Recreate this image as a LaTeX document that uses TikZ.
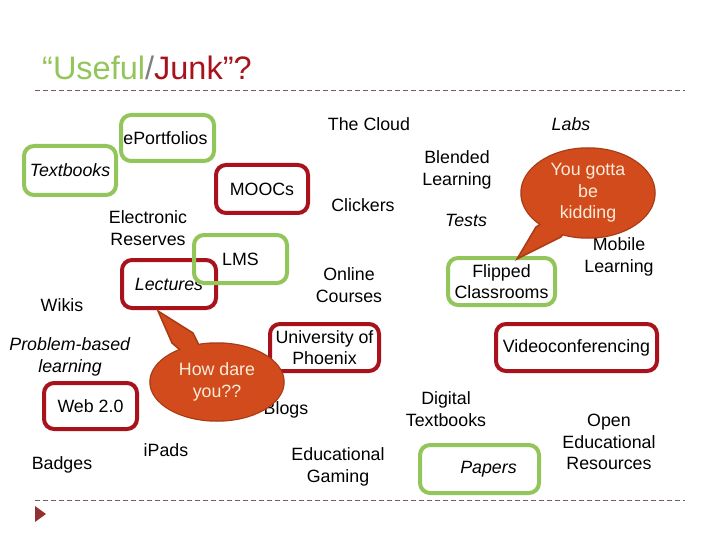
\documentclass[tikz,border=0pt]{standalone}
\usepackage{fontspec}
\setmainfont{Liberation Sans}
\definecolor{gr}{HTML}{92C55A}
\definecolor{rd}{HTML}{A8121C}
\definecolor{bub}{HTML}{D14B1C}
\definecolor{bubd}{HTML}{A83A14}
\definecolor{dashc}{HTML}{7A5C5C}
\definecolor{tric}{HTML}{943030}
\definecolor{bubtext}{HTML}{FDEBDA}
\begin{document}
\begin{tikzpicture}[x=1pt,y=-1pt,
  lbl/.style={font=\fontsize{17.8}{21.5}\selectfont, align=center, inner sep=0pt},
  boxed/.style={lbl, rounded corners=10pt, line width=4pt, draw},
  gbox/.style={boxed, draw=gr},
  rbox/.style={boxed, draw=rd},
  bubshape/.style={fill=bub, draw=bubd, line width=1.5pt},
  bubfill/.style={fill=bub},
  bubtxt/.style={lbl, text=bubtext},
  sepline/.style={draw=dashc, line width=1pt, dash pattern=on 5pt off 3pt}]
\useasboundingbox (0,0) rectangle (720,540);

% title and separators
\node[anchor=base west, font=\fontsize{32.5}{32.5}\selectfont, inner sep=0pt] (title) at (42,80)
  {\textcolor{gr}{“Useful}\textcolor{gray}{/}\textcolor{rd}{Junk”?}};
\draw[sepline] (35,91) -- (685,91);
\draw[sepline] (35,500) -- (685,500);
\fill[tric] (35,506) -- (35,522) -- (46,514) -- cycle;

% boxes
\node[gbox, minimum width=92pt, minimum height=49pt] (textbooks) at (70,170.5) {\textit{Textbooks}};
\node[gbox, minimum width=93pt, minimum height=46pt] (eport) at (167.5,138) {ePortfolios\hspace*{4pt}};
\node[rbox, minimum width=92pt, minimum height=48pt] (moocs) at (262,189) {MOOCs};
\node[rbox, minimum width=94pt, minimum height=48pt] (lectures) at (169,284) {\textit{Lectures}};
\node[gbox, minimum width=93pt, minimum height=48pt] (lms) at (240.5,259) {LMS};
\node[gbox, minimum width=107pt, minimum height=47pt] (flipped) at (501.5,281.5) {Flipped\\Classrooms};
\node[rbox, minimum width=109pt, minimum height=47pt] (uop) at (324.5,347.5) {University of\\Phoenix};
\node[rbox, minimum width=161pt, minimum height=47pt] (video) at (576.5,347.5) {Videoconferencing};
\node[rbox, minimum width=93pt, minimum height=46pt] (web) at (90.5,406) {Web 2.0};
\node[gbox, minimum width=119pt, minimum height=48pt] (papers) at (479.5,469) {\hspace*{18pt}\textit{Papers}};

% plain labels
\node[lbl] (cloud) at (369,124) {The Cloud};
\node[lbl] (labs) at (571,124) {\textit{Labs}};
\node[lbl] (blended) at (457,170) {Blended\\Learning};
\node[lbl] (clickers) at (363,205) {Clickers};
\node[lbl] (tests) at (466,220) {\textit{Tests}};
\node[lbl] (ereserves) at (148,228) {Electronic\\Reserves};
\node[lbl] (online) at (349,285) {Online\\Courses};
\node[lbl] (mobile) at (619,257) {Mobile\\Learning};
\node[lbl] (wikis) at (62,305) {Wikis};
\node[lbl] (pbl) at (70,357) {\textit{Problem-based}\\\textit{learning}};
\node[lbl] (blogs) at (286,410) {Blogs};
\node[lbl] (digital) at (446,409) {Digital\\Textbooks};
\node[lbl] (ipads) at (166,450) {iPads};
\node[lbl] (badges) at (62,465) {Badges};
\node[lbl] (gaming) at (338,467) {Educational\\Gaming};
\node[lbl] (oer) at (609,442) {Open\\Educational\\Resources};

% speech bubble: You gotta be kidding
\coordinate (kc) at (588,193);
\coordinate (ktip) at (517,259);
\draw[bubshape] (kc) ellipse [x radius=67, y radius=45];
\draw[bubshape] (ktip) -- (536,227) -- (kc) -- (561,237) -- cycle;
\fill[bubfill] (kc) ellipse [x radius=66.5, y radius=44.5];
\node[bubtxt] (kidding) at (kc) {You gotta\\be\\kidding};

% speech bubble: How dare you??
\coordinate (hc) at (217,382);
\coordinate (htip) at (158,311);
\draw[bubshape] (hc) ellipse [x radius=67, y radius=39];
\draw[bubshape] (htip) -- (172,343) -- (hc) -- (193,333) -- cycle;
\fill[bubfill] (hc) ellipse [x radius=66.5, y radius=38.5];
\node[bubtxt] (howdare) at (hc) {How dare\\you??};
\end{tikzpicture}
\end{document}
